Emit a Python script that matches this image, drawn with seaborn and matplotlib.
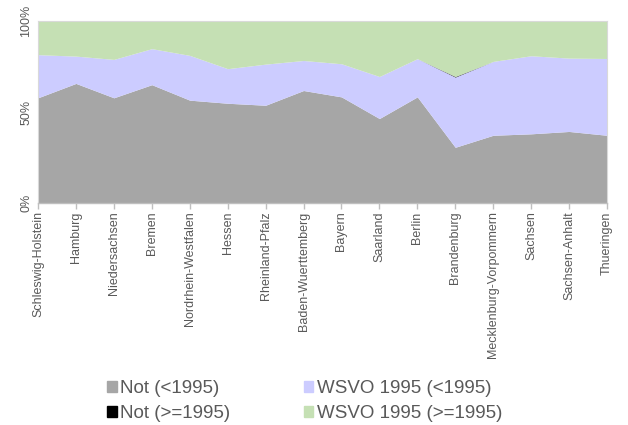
import matplotlib
matplotlib.use("Agg")
import matplotlib.pyplot as plt
import matplotlib.patches as mpatches
import seaborn as sns
import numpy as np

states = ['Schleswig-Holstein', 'Hamburg', 'Niedersachsen', 'Bremen',
          'Nordrhein-Westfalen', 'Hessen', 'Rheinland-Pfalz', 'Baden-Wuerttemberg',
          'Bayern', 'Saarland', 'Berlin', 'Brandenburg',
          'Mecklenburg-Vorpommern', 'Sachsen', 'Sachsen-Anhalt', 'Thueringen']

# shares in percent
not_old = [57.8, 65.7, 57.8, 65.0, 56.5, 54.8, 53.7, 61.8,
           58.3, 46.4, 58.3, 30.6, 37.2, 38.0, 39.3, 37.2]
wsvo_old = [23.7, 15.0, 21.1, 19.8, 24.6, 19.0, 22.6, 16.5,
            18.2, 23.1, 21.0, 38.6, 40.6, 42.9, 40.3, 42.2]
not_new = [0, 0, 0, 0, 0, 0, 0, 0,
           0, 0, 0, 0.3, 0, 0, 0, 0]
wsvo_new = [100 - a - b - c for a, b, c in zip(not_old, wsvo_old, not_new)]

labels = ['Not (<1995)', 'WSVO 1995 (<1995)', 'Not (>=1995)', 'WSVO 1995 (>=1995)']
colors = ['#a6a6a6', '#ccccff', '#000000', '#c5e0b4']

sns.set_theme(style='white')
plt.rcParams['font.family'] = ['Liberation Sans', 'DejaVu Sans']

fig = plt.figure(figsize=(6.28, 4.25), dpi=100)
ax = fig.add_axes([0.0605, 0.5224, 0.906, 0.4282])

x = np.arange(len(states))
ax.stackplot(x, not_old, wsvo_old, not_new, wsvo_new, colors=colors, linewidth=0)

ax.set_xlim(0, len(states) - 1)
ax.set_ylim(0, 100)
ax.set_yticks([0, 50, 100])
ax.set_yticklabels(['0%', '50%', '100%'], rotation=90, va='center', fontsize=9, color='#595959')
ax.set_xticks(x)
ax.set_xticklabels(states, rotation=90, fontsize=9, color='#595959')
ax.tick_params(axis='x', direction='out', length=4, color='#bfbfbf', width=1, bottom=True, pad=2)
ax.tick_params(axis='y', length=0, pad=4)

for side in ['top', 'right', 'left']:
    ax.spines[side].set_color('#d9d9d9')
    ax.spines[side].set_linewidth(0.8)
ax.spines['bottom'].set_color('#bfbfbf')
ax.spines['bottom'].set_linewidth(1)

handles = [mpatches.Patch(color=c, label=l) for c, l in zip(colors, labels)]
order = [0, 2, 1, 3]
fig.legend([handles[i] for i in order], [labels[i] for i in order],
           loc='upper left', bbox_to_anchor=(0.156, 0.127), ncol=2, frameon=False,
           fontsize=13.5, labelcolor='#595959', handlelength=0.5, handleheight=0.5,
           handletextpad=0.17, columnspacing=3.95, labelspacing=0.42, borderpad=0)

fig.savefig('out.png', dpi=100)
